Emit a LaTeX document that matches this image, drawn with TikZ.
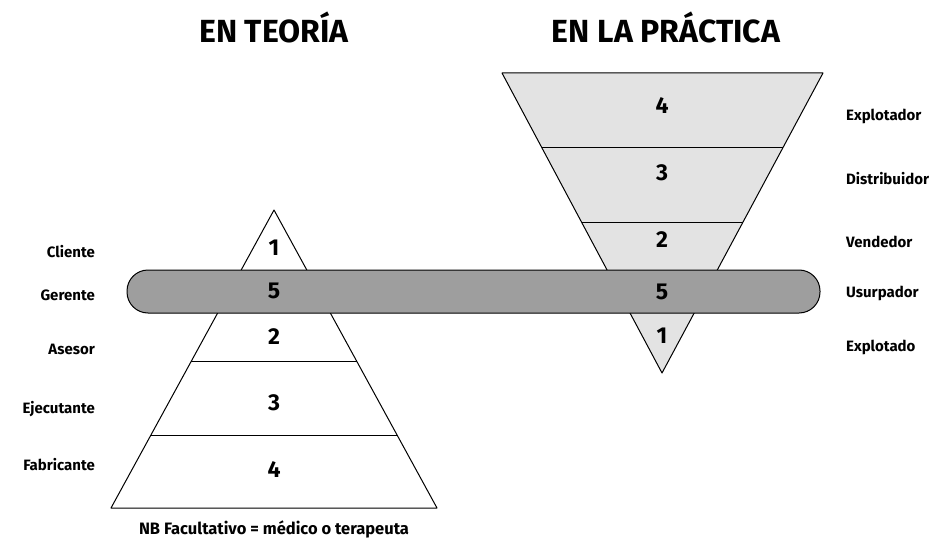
\documentclass[tikz,border=0pt]{standalone}
\usepackage{fontspec}
\setmainfont{Fira Sans}
\usetikzlibrary{positioning,calc}

\begin{document}
\begin{tikzpicture}[
    x=1pt, y=-1pt,
    title/.style={font=\fontsize{32}{34}\selectfont\bfseries},
    level/.style={font=\fontsize{23}{24}\selectfont\bfseries, inner sep=0pt},
    role/.style={font=\fontsize{15}{16}\selectfont\bfseries, inner sep=0pt},
    remark/.style={font=\fontsize{16.5}{18}\selectfont\bfseries, inner sep=0pt},
    tier/.style={draw, line width=1pt, line join=round},
    band/.style={draw, line width=1pt, fill=black!38, rounded corners=21pt}
]
\useasboundingbox (0,0) rectangle (944,540);

% titles
\node[title] (theory) at (274,27) {EN TEORÍA};
\node[title] (practice) at (666,27) {EN LA PRÁCTICA};

% left pyramid
\coordinate (lapex) at (274,210);
\coordinate (lbl) at (111,508);
\coordinate (lbr) at (437,508);
\draw[tier, fill=white] (lapex) -- (lbr) -- (lbl) -- cycle;
\foreach \f in {0.507,0.758}
  \draw[tier] ($(lapex)!\f!(lbl)$) -- ($(lapex)!\f!(lbr)$);

% right pyramid, upside down
\coordinate (rapex) at (662,373);
\coordinate (rtl) at (502,73);
\coordinate (rtr) at (823,73);
\draw[tier, fill=black!11] (rapex) -- (rtr) -- (rtl) -- cycle;
\foreach \f in {0.503,0.753}
  \draw[tier] ($(rapex)!\f!(rtl)$) -- ($(rapex)!\f!(rtr)$);

% the bar across both
\draw[band] (127,270) rectangle (820,313);

% levels
\foreach \n/\y [count=\i] in {1/248, 5/291, 2/337, 3/403, 4/470}
  \node[level] (lnum\i) at (274,\y) {\n};
\foreach \n/\y [count=\i] in {4/106, 3/173, 2/240, 5/292, 1/336}
  \node[level] (rnum\i) at (662,\y) {\n};

% roles
\foreach \t/\y [count=\i] in {Cliente/252, Gerente/295, Asesor/349, Ejecutante/409, Fabricante/465}
  \node[role, anchor=east] (lrole\i) at (95,\y) {\t};
\foreach \t/\y [count=\i] in {Explotador/116, Distribuidor/179, Vendedor/242, Usurpador/293, Explotado/347}
  \node[role, anchor=west] (rrole\i) at (846,\y) {\t};

% note
\coordinate (lbase) at ($(lbl)!0.5!(lbr)$);
\node[remark, below=13pt of lbase] (note) {NB Facultativo = médico o terapeuta};
\end{tikzpicture}
\end{document}
